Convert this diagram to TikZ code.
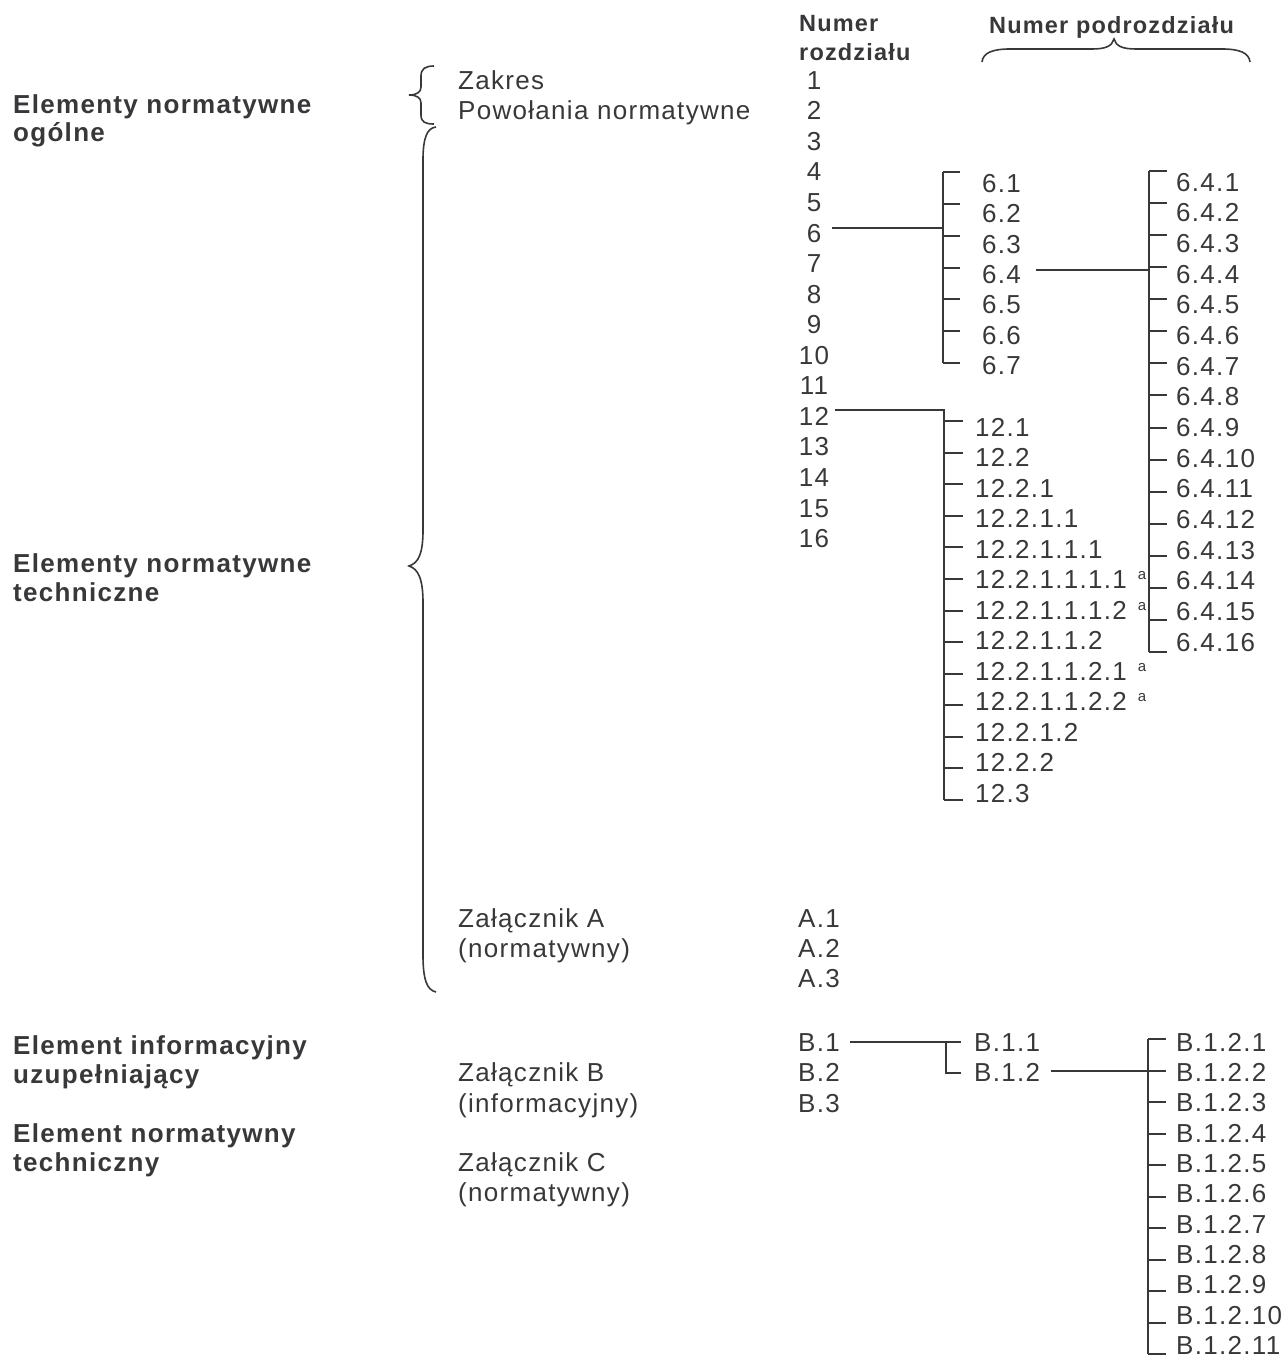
\documentclass[tikz,border=0pt]{standalone}
\usepackage{fontspec}
\setmainfont{Liberation Sans}[LetterSpace=5]
\usetikzlibrary{calc}
\definecolor{ink}{HTML}{38383A}
\newcommand\regfont{\fontsize{26}{30}\selectfont}
\newcommand\hdrfont{\fontsize{23.5}{27}\selectfont\bfseries}
\newcommand\lblfont{\fontsize{26}{30}\selectfont\bfseries}
\newcommand\fnmark{\hspace{11pt}\raisebox{9pt}{\fontsize{15}{15}\selectfont a}}
\tikzset{
  txt/.style={anchor=west, inner sep=0pt, text height=18.6pt, text depth=0pt, font=\regfont, text=ink},
  num/.style={txt, anchor=center},
  lbl/.style={txt, font=\lblfont},
  hdr/.style={txt, font=\hdrfont, text height=16.5pt},
  ln/.style={draw=ink, line width=2pt},
  brc/.style={draw=ink, line width=1.6pt},
}
\begin{document}
\begin{tikzpicture}[x=1pt,y=-1pt]
\useasboundingbox (0,0) rectangle (1284,1357);

% left column
\node[lbl] (gen1) at (13,104) {Elementy normatywne};
\node[lbl] (gen2) at (13,132) {ogólne};
\node[lbl] (tech1) at (13,563) {Elementy normatywne};
\node[lbl] (tech2) at (13,592) {techniczne};
\node[lbl] (inf1) at (13,1045) {Element informacyjny};
\node[lbl] (inf2) at (13,1074) {uzupełniający};
\node[lbl] (nt1) at (13,1133) {Element normatywny};
\node[lbl] (nt2) at (13,1162) {techniczny};

% middle column
\node[txt] (zakres) at (458,80) {Zakres};
\node[txt] (powol) at (458,110.5) {Powołania normatywne};
\node[txt] (zalA1) at (458,918) {Załącznik A};
\node[txt] (zalA2) at (458,948) {(normatywny)};
\node[txt] (zalB1) at (458,1072.5) {Załącznik B};
\node[txt] (zalB2) at (458,1103) {(informacyjny)};
\node[txt] (zalC1) at (458,1162) {Załącznik C};
\node[txt] (zalC2) at (458,1192) {(normatywny)};

% headers
\node[hdr] (hnum1) at (799,23) {Numer};
\node[hdr] (hnum2) at (799,52) {rozdziału};
\node[hdr] (hsub) at (989,25) {Numer podrozdziału};

% braces
\draw[brc] (434,66) .. controls (425,66) and (421,69) .. (421,76) -- (421,87)
  .. controls (421,92) and (417,95) .. (409,95) .. controls (417,95) and (421,98) .. (421,103)
  -- (421,115) .. controls (421,122) and (425,124) .. (434,124);
\draw[brc] (436,127) .. controls (427,128) and (423,138) .. (423,160) -- (423,530)
  .. controls (423,555) and (418,563) .. (409,566) .. controls (418,569) and (423,578) .. (423,603)
  -- (423,955) .. controls (423,980) and (427,990) .. (436,992);
\draw[brc] (982,62) .. controls (983,53) and (992,49) .. (1010,49) -- (1092,49)
  .. controls (1106,49) and (1112,46) .. (1114,39) .. controls (1116,46) and (1122,49) .. (1136,49)
  -- (1222,49) .. controls (1240,49) and (1249,53) .. (1250,62);

% chapter numbers
\foreach \k in {1,...,16}
  \node[num] (c\k) at (814,{80+30.55*(\k-1)}) {\k};
\foreach \k [count=\i from 0] in {1,2,3} {
  \node[txt] (a\k) at (798,{918+30*\i}) {A.\k};
  \node[txt] (b\k) at (798,{1042+30.5*\i}) {B.\k};
}

% subclauses of 6
\foreach \k [count=\i from 0] in {1,...,7}
  \node[txt] (s6-\k) at (982,{183+30.4*\i}) {6.\k};
\foreach \k [count=\i from 0] in {1,...,16}
  \node[txt] (s64-\k) at (1176,{182+30.65*\i}) {6.4.\k};

% subclauses of 12
\foreach \t [count=\i from 0] in {12.1, 12.2, 12.2.1, 12.2.1.1, 12.2.1.1.1,
    12.2.1.1.1.1\fnmark, 12.2.1.1.1.2\fnmark, 12.2.1.1.2, 12.2.1.1.2.1\fnmark,
    12.2.1.1.2.2\fnmark, 12.2.1.2, 12.2.2, 12.3}
  \node[txt] (s12-\i) at (975,{427+30.5*\i}) {\t};

% subclauses of B
\node[txt] (b11) at (974,1042) {B.1.1};
\node[txt] (b12) at (974,1072.5) {B.1.2};
\foreach \k [count=\i from 0] in {1,...,11}
  \node[txt] (b12-\k) at (1176,{1042+30.3*\i}) {B.1.2.\k};

% brackets
\coordinate (k6t) at (943,172);
\coordinate (k6b) at (943,363);
\draw[ln] (k6t) -- (k6b);
\foreach \i in {0,...,6}
  \draw[ln] ($(k6t)!\i/6!(k6b)$) -- ++(17,0);
\draw[ln] ($(c6.east)+(11,-5)$) coordinate (p6) -- (p6 -| k6t);

\coordinate (k64t) at (1149,171);
\coordinate (k64b) at (1149,652);
\draw[ln] (k64t) -- (k64b);
\foreach \i in {0,...,15}
  \draw[ln] ($(k64t)!\i/15!(k64b)$) -- ++(18,0);
\draw[ln] ($(s6-4.east)+(15,-4)$) coordinate (p64) -- (p64 -| k64t);

\coordinate (k12f) at (944,421);
\coordinate (k12b) at (944,800);
\draw[ln] ($(c12.east)+(6,-6)$) -| (k12b);
\foreach \i in {0,...,12}
  \draw[ln] ($(k12f)!\i/12!(k12b)$) -- ++(19,0);

\coordinate (kb) at ($(b11.west)+(-28,0)$);
\draw[ln] ($(b1.east)+(10,0)$) -- ($(b11.west)+(-13,0)$);
\draw[ln] (kb) |- ($(b12.west)+(-13,0)$);

\coordinate (kb12t) at (1148,1039);
\coordinate (kb12b) at (1148,1354);
\draw[ln] (kb12t) -- (kb12b);
\foreach \i in {0,...,10}
  \draw[ln] ($(kb12t)!\i/10!(kb12b)$) -- ++(18,0);
\draw[ln] ($(b12.east)+(11,-2)$) coordinate (pb12) -- (pb12 -| kb12t);
\end{tikzpicture}
\end{document}
